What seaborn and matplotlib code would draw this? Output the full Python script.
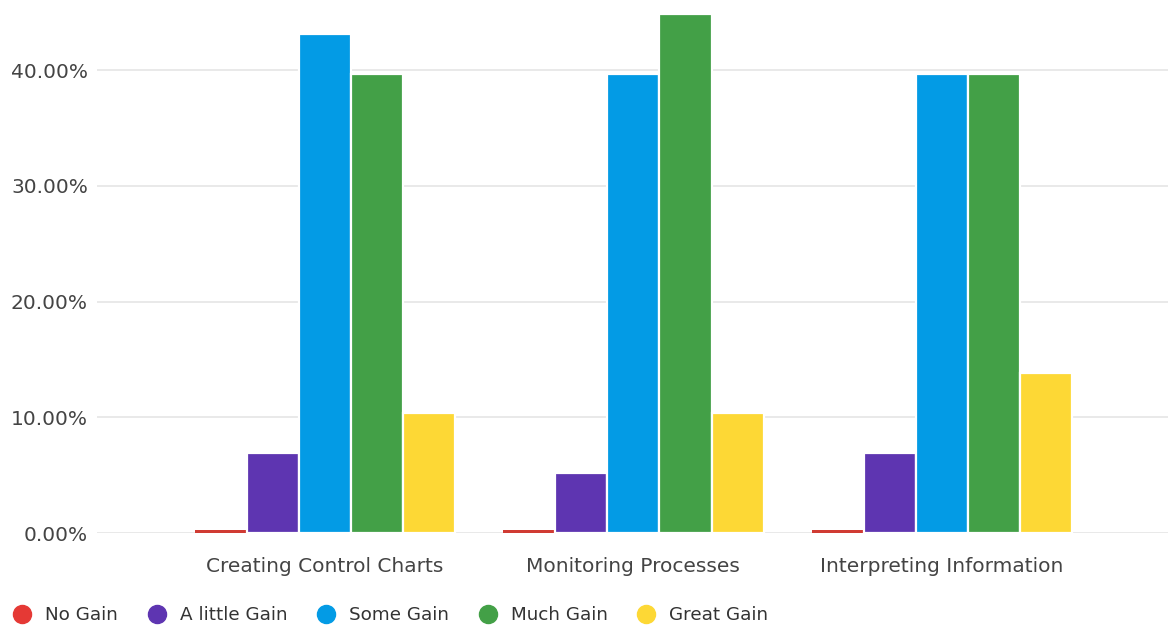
import matplotlib
matplotlib.use("Agg")
import matplotlib.pyplot as plt
from matplotlib.lines import Line2D
from matplotlib.ticker import FuncFormatter
import pandas as pd
import seaborn as sns

# Share of respondents (%) by skill area and reported gain
skills = ["Creating Control Charts", "Monitoring Processes", "Interpreting Information"]
levels = ["No Gain", "A little Gain", "Some Gain", "Much Gain", "Great Gain"]
no_gain = [0.3, 0.3, 0.3]
little_gain = [6.90, 5.17, 6.90]
some_gain = [43.10, 39.66, 39.66]
much_gain = [39.66, 44.83, 39.66]
great_gain = [10.34, 10.34, 13.79]
colors = ["#e53935", "#5e35b1", "#039be5", "#43a047", "#fdd835"]

series = [no_gain, little_gain, some_gain, much_gain, great_gain]
df = pd.DataFrame(
    [(s, lvl, vals[i]) for lvl, vals in zip(levels, series) for i, s in enumerate(skills)],
    columns=["skill", "level", "pct"],
)

sns.set_theme(style="white")
plt.rcParams["font.family"] = ["DejaVu Sans"]

fig = plt.figure(figsize=(11.68, 6.29), dpi=100)
ax = fig.add_axes([0.083, 0.1526, 0.917, 0.8474])

sns.barplot(
    data=df, x="skill", y="pct", hue="level", order=skills, hue_order=levels,
    palette=colors, width=0.845, edgecolor="white", linewidth=1.6,
    saturation=1, errorbar=None, legend=False, ax=ax,
)

# thin "No Gain" bars get no white outline so they stay visible
for patch in ax.patches:
    if patch.get_height() < 1:
        patch.set_linewidth(0)
        patch.set_facecolor("#d03b33")

ax.set_xlim(-0.739, 2.733)
ax.set_ylim(0, 46.05)
ax.set_yticks([0, 10, 20, 30, 40])
ax.yaxis.set_major_formatter(FuncFormatter(lambda v, _: f"{v:.2f}%"))
ax.grid(axis="y", color="#e3e3e3", linewidth=1.1)
ax.set_axisbelow(True)
for sp in ax.spines.values():
    sp.set_visible(False)
ax.set_xlabel("")
ax.set_ylabel("")
ax.tick_params(axis="y", length=0, pad=6.5, labelsize=14.5, labelcolor="#444444")
ax.tick_params(axis="x", length=0, pad=17.5, labelsize=14.5, labelcolor="#444444")

handles = [
    Line2D([0], [0], marker="o", linestyle="none", markersize=13,
           markerfacecolor=c, markeredgecolor=c)
    for c in colors
]
fig.legend(
    handles, levels, loc="center left", bbox_to_anchor=(0.005, 0.022),
    ncol=5, frameon=False, fontsize=13.2, handlelength=1.0, handletextpad=0.76,
    columnspacing=1.6, labelcolor="#333333", borderaxespad=0,
)

fig.savefig("out.png", dpi=100)
